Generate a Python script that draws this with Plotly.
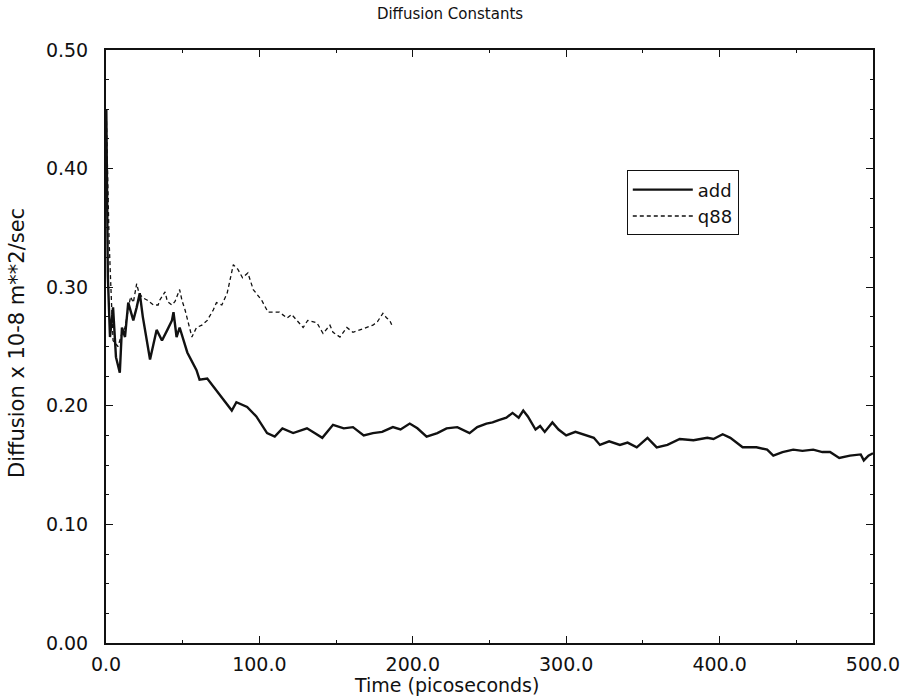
import plotly.graph_objects as go

# Diffusion constant (x 10^-8 m^2/s) versus simulation time (ps)
add_time = [0.2, 0.6, 1.2, 2.6, 4.6, 6.5, 9.0, 10.4, 12.4, 14.5, 17.8, 20.0, 22.0, 24.0,
            28.7, 33.0, 36.5, 40.0, 43.0, 44.0, 46.0, 48.0, 53.0, 59.0, 61.0, 66.0, 72.0,
            76.0, 82.0, 85.0, 92.0, 98.0, 105.0, 110.0, 115.0, 122.0, 131.0, 136.0, 141.0,
            148.0, 155.0, 161.0, 168.0, 174.0, 180.0, 187.0, 192.0, 198.0, 203.0, 209.0,
            216.0, 222.0, 229.0, 237.0, 242.0, 248.0, 252.0, 256.0, 261.0, 265.0, 269.0,
            272.0, 275.0, 280.0, 283.0, 286.0, 291.0, 295.0, 300.0, 306.0, 313.0, 318.0,
            322.0, 328.0, 335.0, 340.0, 346.0, 353.0, 359.0, 366.0, 374.0, 383.0, 392.0,
            396.0, 402.0, 407.0, 415.0, 424.0, 431.0, 435.0, 441.0, 448.0, 454.0, 461.0,
            467.0, 472.0, 478.0, 485.0, 492.0, 494.0, 497.0, 500.0]
add_diff = [0.450, 0.380, 0.309, 0.258, 0.283, 0.241, 0.228, 0.266, 0.258, 0.287, 0.272,
            0.283, 0.295, 0.275, 0.239, 0.264, 0.255, 0.264, 0.272, 0.279, 0.258, 0.266,
            0.245, 0.230, 0.222, 0.223, 0.213, 0.207, 0.196, 0.203, 0.199, 0.191, 0.177,
            0.174, 0.181, 0.177, 0.181, 0.177, 0.173, 0.184, 0.181, 0.182, 0.175, 0.177,
            0.178, 0.182, 0.180, 0.185, 0.181, 0.174, 0.177, 0.181, 0.182, 0.177, 0.182,
            0.185, 0.186, 0.188, 0.190, 0.194, 0.190, 0.196, 0.191, 0.180, 0.183, 0.178,
            0.186, 0.180, 0.175, 0.178, 0.175, 0.173, 0.167, 0.170, 0.167, 0.169, 0.165,
            0.173, 0.165, 0.167, 0.172, 0.171, 0.173, 0.172, 0.176, 0.173, 0.165, 0.165,
            0.163, 0.158, 0.161, 0.163, 0.162, 0.163, 0.161, 0.161, 0.156, 0.158, 0.159,
            0.154, 0.158, 0.160]

q88_time = [0.3, 0.8, 1.5, 2.0, 3.0, 3.9, 4.6, 7.8, 10.4, 12.4, 14.5, 16.0, 17.8, 20.0,
            21.5, 24.0, 27.0, 31.0, 34.0, 35.0, 38.5, 40.0, 43.0, 45.0, 48.0, 49.5, 51.5,
            53.5, 56.0, 59.0, 62.5, 66.0, 70.0, 72.0, 75.5, 79.0, 81.0, 83.0, 86.0, 89.0,
            92.5, 96.0, 101.5, 105.6, 113.0, 118.0, 121.0, 124.5, 128.5, 131.5, 137.5,
            141.5, 146.0, 148.0, 152.5, 157.0, 161.0, 165.5, 170.0, 174.0, 177.0, 180.5,
            183.0, 185.0, 187.0]
q88_diff = [0.440, 0.400, 0.370, 0.340, 0.306, 0.278, 0.255, 0.250, 0.261, 0.266, 0.281,
            0.292, 0.287, 0.303, 0.295, 0.291, 0.289, 0.285, 0.285, 0.289, 0.296, 0.288,
            0.285, 0.288, 0.298, 0.289, 0.281, 0.270, 0.258, 0.266, 0.268, 0.272, 0.281,
            0.287, 0.285, 0.295, 0.306, 0.319, 0.315, 0.308, 0.312, 0.298, 0.289, 0.279,
            0.279, 0.274, 0.277, 0.272, 0.266, 0.272, 0.270, 0.261, 0.268, 0.262, 0.258,
            0.266, 0.262, 0.264, 0.266, 0.268, 0.271, 0.278, 0.274, 0.272, 0.266]

INK = "#111111"
FONT = "DejaVu Sans, Liberation Sans, Arial, sans-serif"
W, H = 901, 699

fig = go.Figure()
fig.add_trace(go.Scatter(x=add_time, y=add_diff, mode="lines", name="add",
                         line=dict(color=INK, width=2.4)))
fig.add_trace(go.Scatter(x=q88_time, y=q88_diff, mode="lines", name="q88",
                         line=dict(color=INK, width=1.3, dash="4px,3px")))

axis_common = dict(
    showgrid=False, zeroline=False, showline=True, linecolor=INK, linewidth=2,
    mirror="ticks", ticks="inside", ticklen=7, tickwidth=1.2, tickcolor=INK,
    tickfont=dict(family=FONT, size=19, color=INK), automargin=False,
)

fig.update_xaxes(
    range=[0, 500], tick0=0, dtick=100, tickformat=".1f", ticklabelstandoff=3,
    minor=dict(dtick=50, ticks="inside", ticklen=3, tickwidth=1, tickcolor=INK, showgrid=False),
    **axis_common,
)
fig.update_yaxes(
    range=[0, 0.5], tick0=0, dtick=0.1, tickformat=".2f", ticklabelstandoff=12,
    minor=dict(dtick=0.025, ticks="inside", ticklen=3, tickwidth=1, tickcolor=INK, showgrid=False),
    **axis_common,
)

# axis titles placed in paper pixels
fig.add_annotation(text="Time (picoseconds)", xref="paper", yref="paper",
                   x=(446 - 106) / (W - 106 - 28), y=-(685 - 643) / (643 - 50),
                   xanchor="center", yanchor="middle", showarrow=False,
                   font=dict(family=FONT, size=19, color=INK))
fig.add_annotation(text="Diffusion x 10-8 m**2/sec", xref="paper", yref="paper",
                   x=-(106 - 17) / (W - 106 - 28), y=(643 - 343) / (643 - 50),
                   xanchor="center", yanchor="middle", textangle=-90, showarrow=False,
                   font=dict(family=FONT, size=21, color=INK))

fig.update_layout(
    width=W, height=H,
    margin=dict(l=106, r=28, t=50, b=56),
    paper_bgcolor="white", plot_bgcolor="white",
    title=dict(text="Diffusion Constants", x=450 / W, xanchor="center",
               y=1 - 14 / H, yanchor="middle",
               font=dict(family=FONT, size=15, color=INK)),
    legend=dict(x=0.679, y=0.797, xanchor="left", yanchor="top",
                bordercolor=INK, borderwidth=1, bgcolor="white",
                font=dict(family=FONT, size=18, color=INK),
                tracegroupgap=0, itemwidth=60),
    showlegend=True,
)

fig.write_html("out.html")
